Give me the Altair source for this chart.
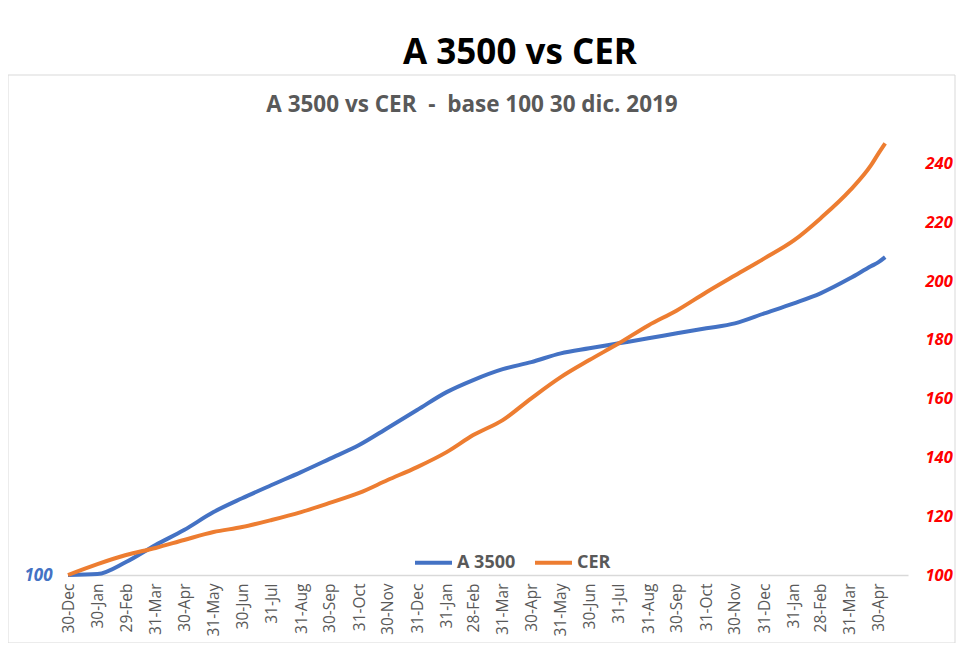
import altair as alt
import pandas as pd

# ---- data ----
dates = [
    "2019-12-30", "2020-01-30", "2020-02-29", "2020-03-31", "2020-04-30", "2020-05-31",
    "2020-06-30", "2020-07-31", "2020-08-31", "2020-09-30", "2020-10-31", "2020-11-30",
    "2020-12-31", "2021-01-31", "2021-02-28", "2021-03-31", "2021-04-30", "2021-05-31",
    "2021-06-30", "2021-07-31", "2021-08-31", "2021-09-30", "2021-10-31", "2021-11-30",
    "2021-12-31", "2022-01-31", "2022-02-28", "2022-03-31", "2022-04-22", "2022-04-30",
    "2022-05-07",
]
a3500 = [
    100.0, 100.3, 104.4, 110.2, 115.3, 121.4, 126.1, 130.6, 135.0, 139.5, 144.2, 150.0,
    156.1, 162.2, 166.3, 170.0, 172.4, 175.4, 177.1, 178.8, 180.5, 182.2, 183.9, 185.6,
    189.0, 192.4, 195.8, 200.9, 205.0, 206.4, 208.1,
]
cer = [
    100.0, 103.7, 106.8, 109.2, 111.9, 114.6, 116.3, 118.7, 121.4, 124.5, 127.9, 132.3,
    136.7, 141.8, 147.6, 152.7, 160.1, 167.3, 173.1, 178.8, 184.9, 190.0, 196.2, 201.9,
    207.7, 213.8, 221.3, 230.8, 239.3, 243.4, 246.8,
]
tick_dates = [
    "2019-12-30", "2020-01-30", "2020-02-29", "2020-03-31", "2020-04-30", "2020-05-31",
    "2020-06-30", "2020-07-31", "2020-08-31", "2020-09-30", "2020-10-31", "2020-11-30",
    "2020-12-31", "2021-01-31", "2021-02-28", "2021-03-31", "2021-04-30", "2021-05-31",
    "2021-06-30", "2021-07-31", "2021-08-31", "2021-09-30", "2021-10-31", "2021-11-30",
    "2021-12-31", "2022-01-31", "2022-02-28", "2022-03-31", "2022-04-30",
]
series_names = ["A 3500", "CER"]
series_colors = ["#4472C4", "#ED7D31"]
right_ticks = [100, 120, 140, 160, 180, 200, 220, 240]
left_ticks = [100]
main_title = "A 3500 vs CER"
inner_title = "A 3500 vs CER\u00a0\u00a0-\u00a0\u00a0base 100 30 dic. 2019"


def dt(s):
    y, m, d = (int(p) for p in s.split("-"))
    return alt.DateTime(year=y, month=m, date=d)


rows = []
for d, v in zip(dates, a3500):
    rows.append({"date": d + "T00:00:00", "series": "A 3500", "value": v})
for d, v in zip(dates, cer):
    rows.append({"date": d + "T00:00:00", "series": "CER", "value": v})
df = pd.DataFrame(rows)

FONT = "Open Sans"
GRAY = "#595959"

x_enc = alt.X(
    "date:T",
    scale=alt.Scale(domain=[dt("2019-12-30"), dt("2022-05-31")]),
    axis=alt.Axis(
        values=[dt(s) for s in tick_dates],
        format="%d-%b",
        labelAngle=270,
        labelFont=FONT,
        labelFontSize=15.5,
        labelColor=GRAY,
        labelPadding=8,
        labelOverlap=False,
        labelBound=False,
        ticks=False,
        grid=False,
        domainColor="#D9D9D9",
        domainWidth=1.5,
        title=None,
    ),
)

color_enc = alt.Color(
    "series:N",
    scale=alt.Scale(domain=series_names, range=series_colors),
    legend=alt.Legend(
        orient="none",
        legendX=345,
        legendY=408,
        direction="horizontal",
        title=None,
        labelFont=FONT,
        labelFontSize=18,
        labelFontWeight="bold",
        labelColor=GRAY,
        symbolType="stroke",
        symbolSize=1369,
        symbolStrokeWidth=4,
        labelOffset=3,
        columnPadding=11,
        padding=0,
    ),
)

y_scale = alt.Scale(domain=[100, 250], nice=False, zero=False)

blue = (
    alt.Chart(df)
    .transform_filter(alt.datum.series == "A 3500")
    .mark_line(strokeWidth=4, interpolate="monotone")
    .encode(
        x=x_enc,
        y=alt.Y(
            "value:Q",
            scale=y_scale,
            axis=alt.Axis(
                orient="left",
                values=left_ticks,
                labelFont=FONT,
                labelFontSize=17,
                labelFontStyle="italic",
                labelFontWeight="bold",
                labelColor="#4472C4",
                labelPadding=16,
                domain=False,
                ticks=False,
                grid=False,
                title=None,
            ),
        ),
        color=color_enc,
    )
)

orange = (
    alt.Chart(df)
    .transform_filter(alt.datum.series == "CER")
    .mark_line(strokeWidth=4, interpolate="monotone")
    .encode(
        x=x_enc,
        y=alt.Y(
            "value:Q",
            scale=y_scale,
            axis=alt.Axis(
                orient="right",
                values=right_ticks,
                labelFont=FONT,
                labelFontSize=16.5,
                labelFontStyle="italic",
                labelFontWeight="bold",
                labelColor="#FF0000",
                labelPadding=17,
                domain=False,
                ticks=False,
                grid=False,
                title=None,
            ),
        ),
        color=color_enc,
    )
)

frame = (
    alt.Chart(pd.DataFrame({"k": [0]}))
    .mark_rect(fillOpacity=0, stroke="#D9D9D9", strokeWidth=1)
    .encode(
        x=alt.value(-60), x2=alt.value(887), y=alt.value(-59), y2=alt.value(509)
    )
)

t_main = (
    alt.Chart(pd.DataFrame({"t": [main_title]}))
    .mark_text(
        font=FONT, fontSize=35, fontWeight="bold", color="black",
        align="center", baseline="alphabetic",
    )
    .encode(text="t:N", x=alt.value(452), y=alt.value(-70))
)

t_inner = (
    alt.Chart(pd.DataFrame({"t": [inner_title]}))
    .mark_text(
        font=FONT, fontSize=22.5, fontWeight="bold", color=GRAY,
        align="center", baseline="alphabetic",
    )
    .encode(text="t:N", x=alt.value(404), y=alt.value(-22))
)

chart = (
    alt.layer(frame, blue, orange, t_main, t_inner)
    .resolve_scale(y="independent")
    .properties(
        width=840,
        height=441,
        autosize=alt.AutoSizeParams(type="none"),
        padding={"left": 60, "top": 126, "right": 52, "bottom": 68},
        background="white",
    )
    .configure_view(stroke=None)
)

chart.save("out.html", embed_options={"renderer": "svg", "actions": False})
